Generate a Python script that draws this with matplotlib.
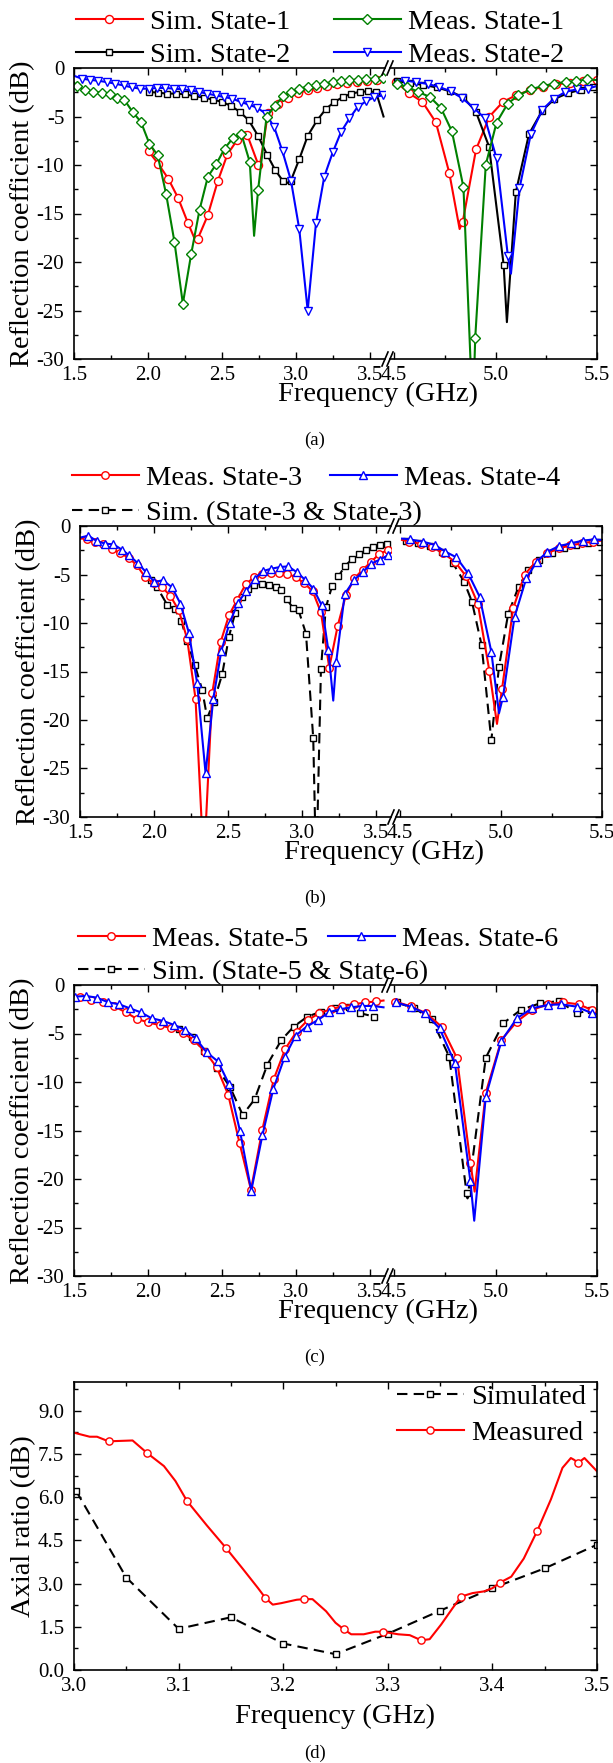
import numpy as np
import matplotlib
matplotlib.use("Agg")
import matplotlib.pyplot as plt
from matplotlib.lines import Line2D
from matplotlib.ticker import MultipleLocator

plt.rcParams['font.family'] = ['Liberation Serif', 'DejaVu Serif']
plt.rcParams['axes.unicode_minus'] = False

# ---------------- (a) reflection coefficient, states 1 & 2 ----------------
# marker points (f in GHz, s in dB) + extra line-only vertices (dips / ends)
sim1_f = [2.004, 2.07, 2.136, 2.203, 2.27, 2.336, 2.403, 2.47, 2.536, 2.603, 2.67, 2.745, 2.81, 2.877, 2.944, 3.01,
          3.077, 3.144, 3.21, 3.277, 3.344, 3.41, 3.477, 3.544,
          4.508, 4.574, 4.64, 4.706, 4.772, 4.838, 4.904, 4.97, 5.036, 5.102, 5.168, 5.234, 5.30, 5.366, 5.432, 5.498]
sim1_s = [-8.6, -9.9, -11.4, -13.4, -16.0, -17.6, -15.2, -11.7, -8.9, -7.4, -6.9, -10.0, -4.6, -3.7, -3.1, -2.6,
          -2.3, -2.05, -1.85, -1.7, -1.55, -1.42, -1.32, -1.25,
          -1.4, -2.6, -3.5, -5.6, -10.8, -15.9, -8.4, -5.0, -3.5, -2.8, -2.3, -1.95, -1.7, -1.5, -1.35, -1.2]
sim1_xf = [2.32, 2.655, 2.752, 3.59, 4.823]
sim1_xs = [-17.8, -6.6, -10.4, -1.2, -16.6]

meas1_f = [1.518, 1.575, 1.631, 1.688, 1.740, 1.789, 1.839, 1.896, 1.952, 2.009, 2.065, 2.122, 2.178, 2.235, 2.291,
           2.348, 2.404, 2.461, 2.517, 2.574, 2.630, 2.687, 2.743, 2.800, 2.856, 2.913, 2.965, 3.021, 3.078, 3.134,
           3.190, 3.247, 3.304, 3.360, 3.417, 3.473, 3.530, 3.586,
           4.516, 4.565, 4.620, 4.677, 4.731, 4.785, 4.842, 4.900, 4.952, 5.005, 5.060, 5.113, 5.173, 5.234, 5.290,
           5.347, 5.398, 5.452]
meas1_s = [-1.85, -2.3, -2.47, -2.54, -2.64, -3.06, -3.26, -4.53, -5.56, -7.8, -9.0, -13.0, -17.9, -24.3, -19.2,
           -14.6, -11.2, -9.9, -8.3, -7.2, -6.8, -9.7, -12.6, -5.05, -3.9, -2.9, -2.47, -2.13, -1.92, -1.79,
           -1.61, -1.44, -1.37, -1.27, -1.2, -1.17, -1.1, -1.03,
           -1.61, -1.96, -2.47, -2.99, -4.12, -6.52, -12.3, -27.8, -9.96, -5.63, -3.67, -2.82, -2.2, -1.85, -1.61,
           -1.44, -1.34, -1.17]
meas1_xf = [1.5, 2.716, 4.888, 5.5]
meas1_xs = [-1.5, -17.3, -36.0, -1.25]

sim2_f = [2.004, 2.065, 2.127, 2.19, 2.25, 2.31, 2.38, 2.44, 2.50, 2.56, 2.62, 2.68, 2.743, 2.806, 2.858, 2.913,
          2.965, 3.021, 3.078, 3.141, 3.202, 3.259, 3.315, 3.372, 3.428, 3.485, 3.54,
          4.516, 4.58, 4.645, 4.71, 4.775, 4.84, 4.903, 4.968, 5.04, 5.10, 5.165, 5.23, 5.29, 5.355, 5.42, 5.48]
sim2_s = [-2.47, -2.54, -2.64, -2.64, -2.71, -2.88, -3.06, -3.26, -3.5, -3.9, -4.53, -5.39, -7.0, -9.0, -10.5, -11.7,
          -11.6, -9.4, -7.0, -5.4, -4.2, -3.5, -3.0, -2.64, -2.47, -2.40, -2.5,
          -1.37, -1.55, -1.75, -2.0, -2.4, -3.0, -4.5, -8.1, -20.3, -12.8, -6.8, -4.4, -3.2, -2.6, -2.25, -2.0]
sim2_xf = [2.94, 3.59, 5.056, 5.5]
sim2_xs = [-11.85, -5.0, -26.2, -1.9]

meas2_f = [1.552, 1.609, 1.665, 1.722, 1.778, 1.835, 1.891, 1.948, 2.004, 2.061, 2.117, 2.174, 2.23, 2.287, 2.343,
           2.40, 2.456, 2.513, 2.569, 2.626, 2.682, 2.739, 2.795, 2.852, 2.908, 2.965, 3.021, 3.078, 3.134, 3.19,
           3.247, 3.303, 3.36, 3.416, 3.473, 3.529, 3.586,
           4.553, 4.609, 4.666, 4.722, 4.779, 4.835, 4.892, 4.948, 5.005, 5.061, 5.118, 5.174, 5.231, 5.287, 5.344,
           5.40, 5.457]
meas2_s = [-1.1, -1.22, -1.32, -1.45, -1.62, -1.8, -2.0, -2.13, -2.13, -2.06, -2.06, -2.13, -2.2, -2.3, -2.47,
           -2.64, -2.82, -2.99, -3.16, -3.5, -3.78, -4.12, -4.7, -6.1, -8.6, -11.6, -16.6, -25.0, -16.0, -11.2,
           -8.7, -6.6, -5.2, -4.0, -3.43, -3.0, -2.82,
           -1.3, -1.45, -1.65, -1.95, -2.4, -3.1, -4.1, -5.2, -9.3, -19.4, -12.4, -6.8, -4.3, -3.16, -2.47,
           -2.2, -2.13]
meas2_xf = [1.5, 4.51, 5.076, 5.5]
meas2_xs = [-0.8, -1.27, -21.2, -1.85]

# ---------------- (b) states 3 & 4 ----------------
meas3_f = [1.545, 1.602, 1.658, 1.715, 1.771, 1.828, 1.884, 1.941, 1.997, 2.054, 2.11, 2.167, 2.223, 2.28, 2.336,
           2.393, 2.449, 2.506, 2.562, 2.619, 2.675, 2.731, 2.788, 2.844, 2.901, 2.957, 3.014, 3.07, 3.127, 3.183,
           3.24, 3.296, 3.353, 3.409, 3.466, 3.522, 3.579,
           4.546, 4.602, 4.659, 4.715, 4.772, 4.828, 4.885, 4.942, 5.005, 5.06, 5.117, 5.173, 5.23, 5.287, 5.344,
           5.40, 5.457]
meas3_s = [-1.3, -1.6, -1.85, -2.4, -2.8, -3.26, -4.05, -5.3, -5.9, -6.3, -7.2, -8.7, -11.6, -17.8, -35.0,
           -17.2, -12.0, -9.2, -7.6, -6.0, -5.3, -4.95, -4.85, -4.8, -4.9, -5.3, -5.9, -6.7, -8.9, -14.6,
           -10.3, -7.1, -5.4, -4.5, -3.7, -2.85, -2.5,
           -1.6, -1.85, -2.2, -2.8, -3.7, -5.2, -8.0, -14.9, -16.8, -8.5, -5.0, -3.68, -2.8, -2.3, -2.0,
           -1.8, -1.6]
meas3_xf = [1.5, 3.6, 4.51, 4.98, 5.5]
meas3_xs = [-1.3, -2.4, -1.44, -20.4, -1.5]

meas4_f = [1.557, 1.613, 1.67, 1.726, 1.783, 1.832, 1.889, 1.945, 2.002, 2.058, 2.12, 2.178, 2.235, 2.291, 2.348,
           2.40, 2.454, 2.51, 2.567, 2.623, 2.68, 2.736, 2.793, 2.85, 2.906, 2.962, 3.019, 3.076, 3.132, 3.177,
           3.23, 3.288, 3.353, 3.41, 3.467, 3.523, 3.58,
           4.548, 4.615, 4.673, 4.725, 4.779, 4.837, 4.894, 4.952, 5.01, 5.067, 5.125, 5.177, 5.23, 5.288, 5.346,
           5.404, 5.46]
meas4_s = [-1.0, -1.55, -1.82, -1.89, -2.44, -3.02, -3.81, -4.74, -5.77, -5.6, -6.29, -8.0, -11.0, -16.2, -25.5,
           -17.8, -12.9, -10.0, -7.9, -6.7, -5.43, -4.64, -4.4, -4.23, -4.16, -4.74, -5.53, -6.46, -8.18, -12.8,
           -14.0, -7.0, -5.53, -4.74, -3.88, -3.47, -3.02,
           -1.38, -1.62, -1.96, -2.65, -3.23, -4.88, -7.29, -12.97, -17.6, -9.36, -5.4, -3.68, -2.65, -2.06, -1.79,
           -1.51, -1.38]
meas4_xf = [1.5, 3.21, 3.6, 4.51, 4.99, 5.5]
meas4_xs = [-1.2, -18.0, -2.8, -1.3, -19.3, -1.45]

sim34_f = [1.98, 2.02, 2.088, 2.14, 2.185, 2.223, 2.275, 2.325, 2.359, 2.404, 2.46, 2.506, 2.547, 2.596, 2.635,
           2.675, 2.732, 2.777, 2.822, 2.86, 2.895, 2.94, 2.976, 3.026, 3.075, 3.127, 3.16, 3.202, 3.245, 3.29,
           3.34, 3.387, 3.433, 3.478, 3.523, 3.575,
           4.53, 4.59, 4.65, 4.71, 4.76, 4.817, 4.856, 4.904, 4.952, 4.99, 5.035, 5.087, 5.135, 5.19, 5.25,
           5.31, 5.37, 5.43, 5.49]
sim34_s = [-5.6, -6.3, -8.1, -8.6, -9.8, -11.9, -14.3, -16.9, -19.8, -18.1, -15.3, -11.4, -9.0, -7.3, -6.5,
           -6.1, -5.95, -6.1, -6.3, -6.6, -7.5, -8.5, -8.7, -11.1, -21.9, -14.7, -8.4, -6.2, -5.2, -4.1,
           -3.4, -2.85, -2.5, -2.2, -2.0, -1.85,
           -1.5, -1.8, -2.1, -2.7, -3.78, -5.74, -7.8, -12.3, -22.1, -14.5, -9.1, -6.26, -4.54, -3.5, -2.8,
           -2.3, -2.0, -1.8, -1.6]
sim34_xf = [3.095]
sim34_xs = [-36.0]

# ---------------- (c) states 5 & 6 ----------------
meas5_f = [1.54, 1.617, 1.694, 1.771, 1.848, 1.925, 2.002, 2.079, 2.156, 2.233, 2.31, 2.387, 2.464, 2.541, 2.618,
           2.695, 2.772, 2.849, 2.926, 3.003, 3.08, 3.157, 3.234, 3.311, 3.388, 3.465, 3.542,
           4.506, 4.582, 4.658, 4.734, 4.81, 4.876, 4.952, 5.029, 5.105, 5.181, 5.257, 5.333, 5.409, 5.475]
meas5_s = [-1.25, -1.5, -1.75, -2.2, -2.8, -3.5, -3.85, -4.15, -4.45, -4.9, -5.7, -6.9, -8.5, -11.3, -16.3,
           -21.1, -14.9, -9.7, -6.6, -4.8, -3.6, -2.9, -2.5, -2.2, -2.0, -1.8, -1.7,
           -1.71, -2.2, -2.91, -4.29, -7.54, -18.3, -11.1, -5.66, -3.77, -2.57, -1.99, -1.78, -1.99, -2.57]
meas5_xf = [1.5, 3.59, 4.897, 5.5]
meas5_xs = [-1.2, -1.6, -21.3, -2.7]

meas6_f = [1.505, 1.58, 1.654, 1.73, 1.805, 1.876, 1.95, 2.024, 2.101, 2.175, 2.25, 2.321, 2.395, 2.472, 2.546,
           2.62, 2.697, 2.772, 2.846, 2.922, 2.997, 3.071, 3.148, 3.222, 3.296, 3.373, 3.447, 3.519,
           4.51, 4.582, 4.652, 4.724, 4.80, 4.876, 4.952, 5.029, 5.105, 5.181, 5.257, 5.323, 5.399, 5.475]
meas6_s = [-1.2, -1.13, -1.3, -1.78, -1.99, -2.4, -2.81, -3.43, -3.7, -4.11, -4.63, -5.49, -6.93, -7.88, -10.2,
           -15.0, -21.2, -15.5, -10.7, -7.44, -5.21, -4.29, -3.6, -2.81, -2.5, -2.3, -2.16, -2.16,
           -1.8, -2.23, -2.91, -4.46, -8.06, -20.2, -11.5, -5.76, -3.43, -2.4, -2.06, -1.99, -2.23, -2.91]
meas6_xf = [3.59, 4.895, 5.5]
meas6_xs = [-2.3, -24.3, -3.0]

sim56_f = [2.209, 2.295, 2.381, 2.467, 2.553, 2.639, 2.719, 2.806, 2.899, 2.983, 3.076, 3.169, 3.262, 3.354, 3.434,
           3.526,
           4.513, 4.599, 4.685, 4.772, 4.857, 4.952, 5.038, 5.124, 5.219, 5.314, 5.399, 5.47]
sim56_s = [-4.5, -5.4, -6.8, -8.6, -10.5, -13.4, -11.8, -8.2, -5.7, -4.3, -3.26, -2.74, -2.4, -2.23, -2.91,
           -3.26,
           -1.8, -2.4, -3.5, -7.4, -21.4, -7.5, -3.94, -2.57, -1.89, -1.65, -2.91, -2.6]
sim56_xf = [4.862]
sim56_xs = [-22.0]

# ---------------- (d) axial ratio ----------------
ar_sim_f = [3.002, 3.05, 3.10, 3.15, 3.20, 3.25, 3.30, 3.35, 3.40, 3.45, 3.50]
ar_sim = [6.22, 3.21, 1.43, 1.83, 0.92, 0.55, 1.26, 2.06, 2.84, 3.53, 4.35]
ar_meas_f = [3.033, 3.07, 3.108, 3.145, 3.183, 3.22, 3.258, 3.295, 3.332, 3.37, 3.407, 3.443, 3.482]
ar_meas = [7.94, 7.53, 5.87, 4.25, 2.5, 2.46, 1.41, 1.33, 1.03, 2.55, 3.03, 4.84, 7.19]
ar_meas_xf = [3.0, 3.015, 3.022, 3.056, 3.086, 3.097, 3.127, 3.161, 3.176, 3.19, 3.198, 3.213, 3.228, 3.241, 3.25,
              3.265, 3.277, 3.288, 3.31, 3.321, 3.34, 3.351, 3.362, 3.381, 3.392, 3.40, 3.418, 3.43, 3.456, 3.467,
              3.475, 3.478, 3.488, 3.5]
ar_meas_xs = [8.24, 8.1, 8.1, 7.97, 7.08, 6.56, 5.02, 3.53, 2.84, 2.27, 2.32, 2.44, 2.46, 2.04, 1.64,
              1.24, 1.24, 1.33, 1.24, 1.21, 1.07, 1.58, 2.15, 2.67, 2.73, 2.84, 3.24, 3.87, 5.93, 7.02,
              7.36, 7.3, 7.36, 6.9]

W, H = 613, 1763
fig = plt.figure(figsize=(W / 100, H / 100), dpi=100)

FS_LAB = 20.5
FS_TICK = 15
RED, GREEN, BLUE, BLACK = '#ff0000', '#008000', '#0000ff', 'black'


def rect(l, r, t, b):
    return [l / W, 1 - b / H, (r - l) / W, (b - t) / H]


def style_ax(ax):
    ax.tick_params(which='both', direction='in', top=True, right=True, labelsize=FS_TICK, width=1.0)
    ax.tick_params(which='major', length=5)
    ax.tick_params(which='minor', length=3)
    ax.tick_params(axis='y', pad=7)
    ax.tick_params(axis='x', pad=5)
    for sp in ax.spines.values():
        sp.set_linewidth(1.2)


def slash(x, y):
    fig.add_artist(Line2D([(x - 3) / W, (x + 3) / W], [1 - (y + 7) / H, 1 - (y - 7) / H],
                          color='black', lw=1.2))


def broken(l, r, t, b, e, s):
    axl = fig.add_axes(rect(l, e, t, b))
    axr = fig.add_axes(rect(s, r, t, b))
    axl.set_xlim(1.5, 3.6)
    axr.set_xlim(4.48, 5.5)
    for ax in (axl, axr):
        ax.set_ylim(-30, 0)
        ax.xaxis.set_major_locator(MultipleLocator(0.5))
        ax.xaxis.set_minor_locator(MultipleLocator(0.25))
        ax.yaxis.set_major_locator(MultipleLocator(5))
        ax.yaxis.set_minor_locator(MultipleLocator(2.5))
        style_ax(ax)
    axl.spines['right'].set_visible(False)
    axr.spines['left'].set_visible(False)
    axl.tick_params(which='both', right=False)
    axr.tick_params(which='both', left=False, labelleft=False)
    axl.yaxis.set_major_formatter(lambda v, p: '%d' % v)
    for y in (t, b):
        slash(e, y)
        slash(s, y)
    fig.text(23 / W + (l - 74) / W, 1 - (t + b) / 2 / H, 'Reflection coefficient (dB)', rotation=90,
             ha='center', va='center', fontsize=FS_LAB)
    fig.text((378 + (l - 74)) / W, 1 - (b + 35) / H, 'Frequency (GHz)', ha='center', va='center', fontsize=FS_LAB)
    return axl, axr


def merged(f, s, xf, xs):
    f_all = np.concatenate([f, xf])
    s_all = np.concatenate([s, xs])
    mk = np.concatenate([np.ones(len(f), bool), np.zeros(len(xf), bool)])
    o = np.argsort(f_all)
    return f_all[o], s_all[o], mk[o]


def draw(axl, axr, f, s, xf, xs, color, marker, ms, dashed=False):
    ff, ss, mk = merged(f, s, xf, xs)
    ls = (0, (5, 3)) if dashed else '-'
    h = None
    for ax, sel in ((axl, ff < 4), (axr, ff > 4)):
        h = ax.plot(ff[sel], ss[sel], color=color, ls=ls, lw=1.5, marker=marker, ms=ms, mfc='white',
                    mec=color, mew=1.0, markevery=list(mk[sel]))[0]
    return h


def entry(h, label, x, y):
    fig.legend(handles=[h], labels=[label], loc='center left', bbox_to_anchor=(x / W, 1 - y / H),
               bbox_transform=fig.transFigure, frameon=False, borderpad=0, borderaxespad=0,
               handlelength=2.35, handletextpad=0.25, fontsize=FS_LAB, numpoints=1)


def caption(txt, b):
    fig.text(315 / W, 1 - (b + 81) / H, txt, ha='center', va='center', fontsize=13.5)


# ---- (a)
al, ar = broken(74, 597, 68, 359, 385, 390)
h_s1 = draw(al, ar, sim1_f, sim1_s, sim1_xf, sim1_xs, RED, 'o', 5.8)
h_s2 = draw(al, ar, sim2_f, sim2_s, sim2_xf, sim2_xs, BLACK, 's', 4.8)
h_m2 = draw(al, ar, meas2_f, meas2_s, meas2_xf, meas2_xs, BLUE, 'v', 6.4)
h_m1 = draw(al, ar, meas1_f, meas1_s, meas1_xf, meas1_xs, GREEN, 'D', 5.6)
entry(h_s1, 'Sim. State-1', 76, 22)
entry(h_m1, 'Meas. State-1', 334, 22)
entry(h_s2, 'Sim. State-2', 76, 55)
entry(h_m2, 'Meas. State-2', 334, 55)
caption('(a)', 359)

# ---- (b)
bl, br = broken(80, 602, 526, 817, 391, 396)
h_sb = draw(bl, br, sim34_f, sim34_s, sim34_xf, sim34_xs, BLACK, 's', 4.6, dashed=True)
h_m3 = draw(bl, br, meas3_f, meas3_s, meas3_xf, meas3_xs, RED, 'o', 5.4)
h_m4 = draw(bl, br, meas4_f, meas4_s, meas4_xf, meas4_xs, BLUE, '^', 6.0)
entry(h_m3, 'Meas. State-3', 72, 478)
entry(h_m4, 'Meas. State-4', 330, 478)
entry(h_sb, 'Sim. (State-3 & State-3)', 72, 513)
caption('(b)', 817)

# ---- (c)
cl, cr = broken(74, 597, 985, 1276, 385, 390)
h_sc = draw(cl, cr, sim56_f, sim56_s, sim56_xf, sim56_xs, BLACK, 's', 4.6, dashed=True)
h_m5 = draw(cl, cr, meas5_f, meas5_s, meas5_xf, meas5_xs, RED, 'o', 5.4)
h_m6 = draw(cl, cr, meas6_f, meas6_s, meas6_xf, meas6_xs, BLUE, '^', 6.0)
entry(h_m5, 'Meas. State-5', 78, 939)
entry(h_m6, 'Meas. State-6', 328, 939)
entry(h_sc, 'Sim. (State-5 & State-6)', 78, 972)
caption('(c)', 1276)

# ---- (d)
ad = fig.add_axes(rect(74, 597, 1382, 1670))
ad.set_xlim(3.0, 3.5)
ad.set_ylim(0, 10)
ad.xaxis.set_major_locator(MultipleLocator(0.1))
ad.xaxis.set_minor_locator(MultipleLocator(0.05))
ad.yaxis.set_major_locator(MultipleLocator(1.5))
ad.yaxis.set_minor_locator(MultipleLocator(0.75))
style_ax(ad)
ad.xaxis.set_major_formatter(lambda v, p: '%.1f' % v)
ad.yaxis.set_major_formatter(lambda v, p: '%.1f' % v)
h_as = ad.plot(ar_sim_f, ar_sim, color=BLACK, ls=(0, (5, 3)), lw=1.5, marker='s', ms=4.4, mfc='white',
               mec=BLACK, mew=1.0)[0]
mf, ms_, mk = merged(ar_meas_f, ar_meas, ar_meas_xf, ar_meas_xs)
h_am = ad.plot(mf, ms_, color=RED, lw=1.5, marker='o', ms=5.2, mfc='white', mec=RED, mew=1.0,
               markevery=list(mk))[0]
entry(h_as, 'Simulated', 397, 1397)
entry(h_am, 'Measured', 397, 1433)
fig.text(24 / W, 1 - 1526 / H, 'Axial ratio (dB)', rotation=90, ha='center', va='center', fontsize=FS_LAB)
fig.text(335 / W, 1 - 1716 / H, 'Frequency (GHz)', ha='center', va='center', fontsize=FS_LAB)
caption('(d)', 1672)

fig.savefig('out.png', dpi=100)
